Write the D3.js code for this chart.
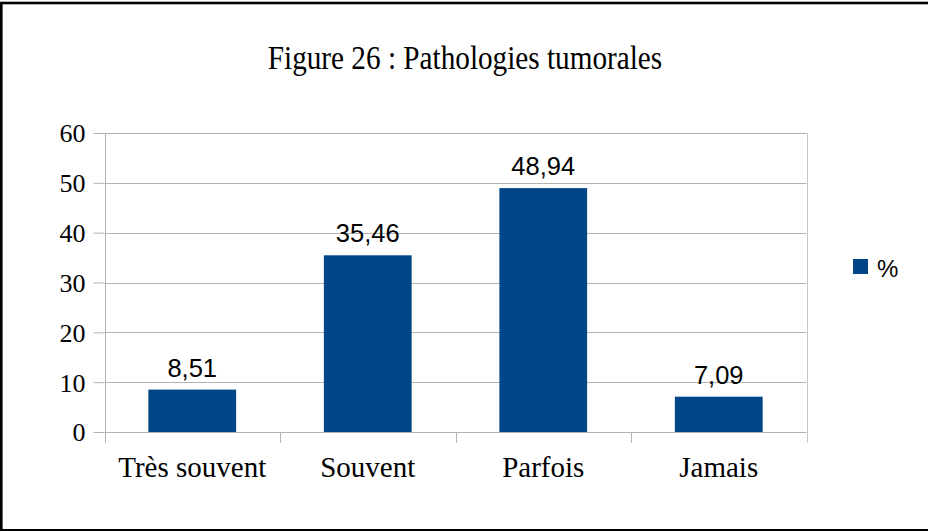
<!DOCTYPE html>
<html>
<head>
<meta charset="utf-8">
<script src="https://cdn.jsdelivr.net/npm/d3@7"></script>
<style>
  html, body { margin: 0; padding: 0; background: #fff; }
  svg { display: block; }
</style>
</head>
<body>
<svg id="chart" width="928" height="531"></svg>
<script>
const title = "Figure 26 : Pathologies tumorales";
const categories = ["Très souvent", "Souvent", "Parfois", "Jamais"];
const values = [8.51, 35.46, 48.94, 7.09];
const valueLabels = ["8,51", "35,46", "48,94", "7,09"];
const yTicks = [0, 10, 20, 30, 40, 50, 60];
const seriesName = "%";

const W = 928, H = 531;
const plot = { left: 104.5, right: 806.5, top: 133, bottom: 432 };
const barColor = "#004586";
const gridColor = "#b3b3b3";
const serif = "'Liberation Serif', 'Times New Roman', serif";
const sans = "'Liberation Sans', Arial, sans-serif";

const svg = d3.select("#chart");
svg.append("rect").attr("width", W).attr("height", H).attr("fill", "#fff");

// outer frame
svg.append("rect")
  .attr("x", 1.3).attr("y", 3)
  .attr("width", W + 10).attr("height", 527.3)
  .attr("fill", "none").attr("stroke", "#000").attr("stroke-width", 2.6);

const x = d3.scaleBand().domain(categories).range([plot.left, plot.right]).paddingInner(0.5).paddingOuter(0.25);
const y = d3.scaleLinear().domain([0, 60]).range([plot.bottom, plot.top]);

// title
svg.append("text")
  .attr("transform", `translate(${465},${68.5}) scale(0.86,1)`)
  .attr("text-anchor", "middle")
  .style("font-family", serif).style("font-size", "34px")
  .attr("fill", "#000")
  .text(title);

// grid lines
svg.append("g").selectAll("line").data(yTicks).join("line")
  .attr("x1", plot.left).attr("x2", plot.right)
  .attr("y1", d => Math.round(y(d)) + 0.5).attr("y2", d => Math.round(y(d)) + 0.5)
  .attr("stroke", gridColor).attr("stroke-width", 1);

// y axis
const yAxis = svg.append("g")
  .attr("transform", `translate(${plot.left},0)`)
  .call(d3.axisLeft(y).tickValues(yTicks).tickSize(11).tickPadding(8).tickFormat(d3.format("d")));
yAxis.attr("font-family", null).attr("font-size", null);
yAxis.select(".domain").remove();
yAxis.selectAll(".tick line").attr("stroke", gridColor);
yAxis.selectAll(".tick text")
  .style("font-family", serif).style("font-size", "26px").attr("fill", "#000")
  .attr("dy", "0.34em");

// vertical plot edges + category boundary ticks
const edges = categories.map(c => x(c) - x.bandwidth() / 2).concat([plot.right]);
svg.append("g").selectAll("line").data(edges).join("line")
  .attr("x1", d => Math.round(d) + 0.5).attr("x2", d => Math.round(d) + 0.5)
  .attr("y1", (d, i) => (i === 0 || i === edges.length - 1) ? plot.top : plot.bottom)
  .attr("y2", plot.bottom + 11)
  .attr("stroke", (d, i) => i === edges.length - 1 ? "#c8c8c8" : gridColor)
  .attr("stroke-width", 1);

// bars
svg.append("g").selectAll("rect").data(values).join("rect")
  .attr("x", (d, i) => x(categories[i]))
  .attr("y", d => y(d))
  .attr("width", x.bandwidth())
  .attr("height", d => y(0) - y(d))
  .attr("fill", barColor);

// value labels
svg.append("g").selectAll("text").data(values).join("text")
  .attr("x", (d, i) => x(categories[i]) + x.bandwidth() / 2)
  .attr("y", d => y(d) - 13)
  .attr("text-anchor", "middle")
  .style("font-family", sans).style("font-size", "25.5px").attr("fill", "#000")
  .text((d, i) => valueLabels[i]);

// x axis labels
const xAxis = svg.append("g")
  .attr("transform", `translate(0,${plot.bottom})`)
  .call(d3.axisBottom(x).tickSize(0).tickPadding(0));
xAxis.attr("font-family", null).attr("font-size", null);
xAxis.select(".domain").remove();
xAxis.selectAll(".tick text")
  .style("font-family", serif).style("font-size", "29px").attr("fill", "#000")
  .attr("y", 44.5).attr("dy", 0);

// legend
const lg = svg.append("g").attr("transform", "translate(853,259)");
lg.append("rect").attr("width", 15).attr("height", 15).attr("fill", barColor);
lg.append("text").attr("x", 24).attr("y", 17.5)
  .style("font-family", sans).style("font-size", "24px").attr("fill", "#000")
  .text(seriesName);
</script>
</body>
</html>
